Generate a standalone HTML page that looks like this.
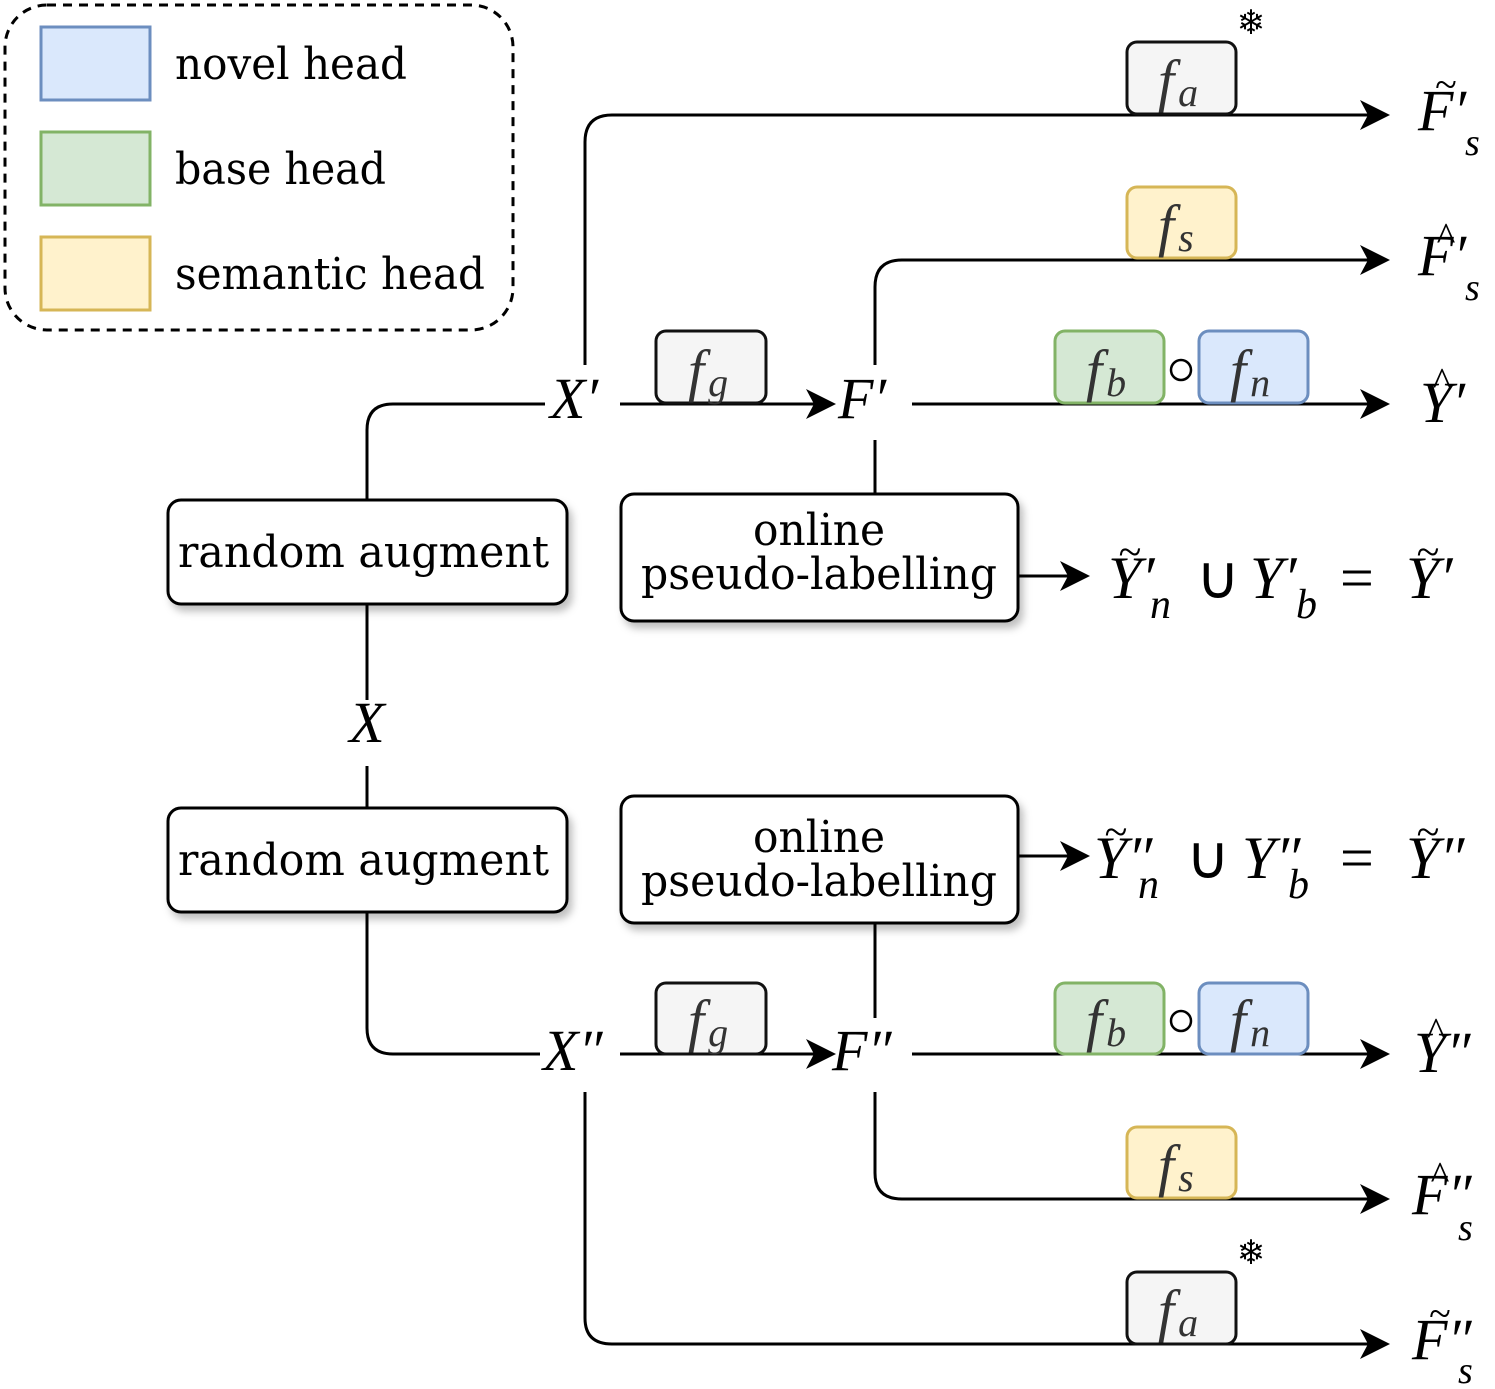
<!DOCTYPE html>
<html><head><meta charset="utf-8"><style>
html,body{margin:0;padding:0;background:#fff}
svg{display:block}
text{font-family:"DejaVu Serif","Liberation Serif",serif;fill:#000}
.m{font-family:"Liberation Serif",serif;font-style:italic}
.fn{font-family:"Liberation Serif",serif;font-style:italic;fill:#333}
.l{font-family:"Liberation Serif",serif}
</style></head><body>
<svg width="1495" height="1389" viewBox="0 0 1495 1389" xmlns="http://www.w3.org/2000/svg">
<defs>
<filter id="sh" x="-10%" y="-10%" width="130%" height="140%"><feDropShadow dx="4" dy="6" stdDeviation="4" flood-color="#000" flood-opacity="0.25"/></filter>
</defs>
<!-- legend -->
<rect x="5" y="5" width="508" height="325" rx="42" fill="none" stroke="#000" stroke-width="3" stroke-dasharray="9,7"/>
<rect x="41" y="27" width="109" height="73" fill="#dae8fc" stroke="#6c8ebf" stroke-width="3"/>
<rect x="41" y="132" width="109" height="73" fill="#d5e8d4" stroke="#82b366" stroke-width="3"/>
<rect x="41" y="237" width="109" height="73" fill="#fff2cc" stroke="#d6b656" stroke-width="3"/>
<text x="175" y="79" font-size="44" textLength="232" lengthAdjust="spacingAndGlyphs">novel head</text>
<text x="175" y="184" font-size="44" textLength="211" lengthAdjust="spacingAndGlyphs">base head</text>
<text x="175" y="289" font-size="44" textLength="310" lengthAdjust="spacingAndGlyphs">semantic head</text>

<g fill="none" stroke="#000" stroke-width="3">
<path d="M367 500 V430 Q367 404 393 404 H545"/>
<path d="M620 404 H818"/>
<path d="M912 404 H1372"/>
<path d="M585 365 V142 Q585 115 612 115 H1372"/>
<path d="M875 365 V287 Q875 260 902 260 H1372"/>
<path d="M875 440 V494"/>
<path d="M367 604 V700"/>
<path d="M367 766 V808"/>
<path d="M1018 576 H1072"/>
<path d="M1018 856 H1072"/>
<path d="M367 912 V1028 Q367 1054 393 1054 H540"/>
<path d="M620 1054 H818"/>
<path d="M912 1054 H1372"/>
<path d="M875 923 V1018"/>
<path d="M875 1092 V1173 Q875 1199 902 1199 H1372"/>
<path d="M585 1092 V1318 Q585 1344 612 1344 H1372"/>
</g>
<g fill="#000">
<path d="M1390 115 l-30 -15 l8 15 l-8 15z"/>
<path d="M1390 260 l-30 -15 l8 15 l-8 15z"/>
<path d="M1390 404 l-30 -15 l8 15 l-8 15z"/>
<path d="M836 404 l-30 -15 l8 15 l-8 15z"/>
<path d="M1090 576 l-30 -15 l8 15 l-8 15z"/>
<path d="M1090 856 l-30 -15 l8 15 l-8 15z"/>
<path d="M836 1054 l-30 -15 l8 15 l-8 15z"/>
<path d="M1390 1054 l-30 -15 l8 15 l-8 15z"/>
<path d="M1390 1199 l-30 -15 l8 15 l-8 15z"/>
<path d="M1390 1344 l-30 -15 l8 15 l-8 15z"/>
</g>

<g stroke-width="3">
<rect x="168" y="500" width="399" height="104" rx="13" fill="#fff" stroke="#000" filter="url(#sh)"/>
<rect x="168" y="808" width="399" height="104" rx="13" fill="#fff" stroke="#000" filter="url(#sh)"/>
<rect x="621" y="494" width="397" height="127" rx="13" fill="#fff" stroke="#000" filter="url(#sh)"/>
<rect x="621" y="796" width="397" height="127" rx="13" fill="#fff" stroke="#000" filter="url(#sh)"/>
<rect x="1127" y="42" width="109" height="72" rx="10" fill="#f5f5f5" stroke="#111"/>
<rect x="1127" y="187" width="109" height="71" rx="10" fill="#fff2cc" stroke="#d6b656"/>
<rect x="656" y="331" width="110" height="72" rx="10" fill="#f5f5f5" stroke="#111"/>
<rect x="1055" y="331" width="109" height="72" rx="10" fill="#d5e8d4" stroke="#82b366"/>
<rect x="1199" y="331" width="109" height="72" rx="10" fill="#dae8fc" stroke="#6c8ebf"/>
<rect x="656" y="983" width="110" height="71" rx="10" fill="#f5f5f5" stroke="#111"/>
<rect x="1055" y="983" width="109" height="71" rx="10" fill="#d5e8d4" stroke="#82b366"/>
<rect x="1199" y="983" width="109" height="71" rx="10" fill="#dae8fc" stroke="#6c8ebf"/>
<rect x="1127" y="1127" width="109" height="71" rx="10" fill="#fff2cc" stroke="#d6b656"/>
<rect x="1127" y="1272" width="109" height="72" rx="10" fill="#f5f5f5" stroke="#111"/>
</g>
<text x="178" y="567" font-size="44" textLength="371" lengthAdjust="spacingAndGlyphs">random augment</text>
<text x="178" y="875" font-size="44" textLength="371" lengthAdjust="spacingAndGlyphs">random augment</text>
<text x="753" y="545" font-size="44" textLength="132" lengthAdjust="spacingAndGlyphs">online</text>
<text x="641" y="589" font-size="44" textLength="356" lengthAdjust="spacingAndGlyphs">pseudo-labelling</text>
<text x="753" y="852" font-size="44" textLength="132" lengthAdjust="spacingAndGlyphs">online</text>
<text x="641" y="896" font-size="44" textLength="356" lengthAdjust="spacingAndGlyphs">pseudo-labelling</text>

<g font-size="58">
<text class="fn" x="1158" y="100">f<tspan font-size="40" dx="4" dy="6">a</tspan></text>
<text class="fn" x="1158" y="245">f<tspan font-size="40" dx="4" dy="6">s</tspan></text>
<text class="fn" x="688" y="390">f<tspan font-size="40" dx="4" dy="6">g</tspan></text>
<text class="fn" x="1086" y="390">f<tspan font-size="40" dx="4" dy="6">b</tspan></text>
<text class="fn" x="1230" y="390">f<tspan font-size="40" dx="4" dy="6">n</tspan></text>
<text class="fn" x="688" y="1040">f<tspan font-size="40" dx="4" dy="6">g</tspan></text>
<text class="fn" x="1086" y="1040">f<tspan font-size="40" dx="4" dy="6">b</tspan></text>
<text class="fn" x="1230" y="1040">f<tspan font-size="40" dx="4" dy="6">n</tspan></text>
<text class="fn" x="1158" y="1185">f<tspan font-size="40" dx="4" dy="6">s</tspan></text>
<text class="fn" x="1158" y="1330">f<tspan font-size="40" dx="4" dy="6">a</tspan></text>
</g>
<circle cx="1181" cy="370" r="10" fill="none" stroke="#000" stroke-width="2.5"/>
<circle cx="1181" cy="1021" r="10" fill="none" stroke="#000" stroke-width="2.5"/>
<text x="1251" y="34" font-size="34" text-anchor="middle" font-family="DejaVu Sans">❄</text>
<text x="1251" y="1264" font-size="34" text-anchor="middle" font-family="DejaVu Sans">❄</text>

<g font-size="58">
<text class="m" x="367" y="742" text-anchor="middle">X</text>
<text class="m" x="550" y="418">X′</text>
<text class="m" x="838" y="418">F′</text>
<text class="m" x="543" y="1070">X″</text>
<text class="m" x="832" y="1070">F″</text>
<text class="m" x="1418" y="130">F′</text><text class="l" x="1446" y="98" font-size="40" text-anchor="middle">~</text><text class="m" x="1465" y="155" font-size="38">s</text>
<text class="m" x="1418" y="275">F′</text><text class="l" x="1446" y="250" font-size="40" text-anchor="middle">^</text><text class="m" x="1465" y="300" font-size="38">s</text>
<text class="m" x="1420" y="422">Y′</text><text class="l" x="1442" y="395" font-size="40" text-anchor="middle">^</text>
<text class="m" x="1414" y="1072">Y″</text><text class="l" x="1436" y="1045" font-size="40" text-anchor="middle">^</text>
<text class="m" x="1412" y="1214">F″</text><text class="l" x="1440" y="1189" font-size="40" text-anchor="middle">^</text><text class="m" x="1458" y="1240" font-size="38">s</text>
<text class="m" x="1412" y="1359">F″</text><text class="l" x="1440" y="1327" font-size="40" text-anchor="middle">~</text><text class="m" x="1458" y="1383" font-size="38">s</text>
</g>
<g font-size="60">
<text class="m" x="1108" y="598">Y′</text><text class="l" x="1130" y="566" font-size="42" text-anchor="middle">~</text>
<text class="m" x="1150" y="618" font-size="42">n</text>
<text class="l" x="1196" y="598">∪</text>
<text class="m" x="1250" y="598">Y′</text><text class="m" x="1296" y="618" font-size="42">b</text>
<text class="l" x="1340" y="598">=</text>
<text class="m" x="1406" y="598">Y′</text><text class="l" x="1428" y="566" font-size="42" text-anchor="middle">~</text>

<text class="m" x="1094" y="878">Y″</text><text class="l" x="1116" y="846" font-size="42" text-anchor="middle">~</text>
<text class="m" x="1138" y="898" font-size="42">n</text>
<text class="l" x="1186" y="878">∪</text>
<text class="m" x="1242" y="878">Y″</text><text class="m" x="1288" y="898" font-size="42">b</text>
<text class="l" x="1340" y="878">=</text>
<text class="m" x="1406" y="878">Y″</text><text class="l" x="1428" y="846" font-size="42" text-anchor="middle">~</text>
</g>
</svg>
</body></html>
